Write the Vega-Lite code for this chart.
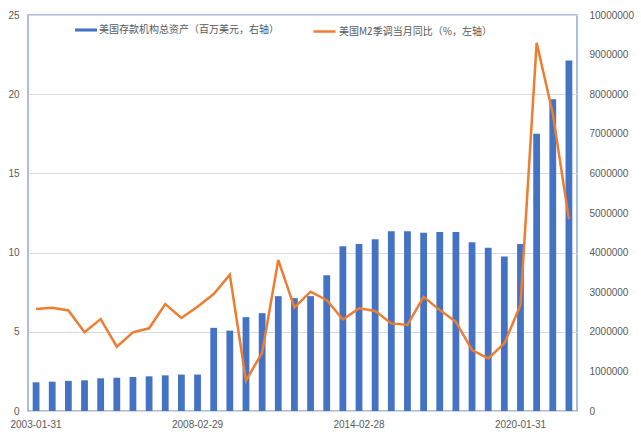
{
  "$schema": "https://vega.github.io/schema/vega-lite/v6.json",
  "autosize": "none",
  "width": 549,
  "height": 396,
  "padding": {"left": 28, "top": 15, "right": 64, "bottom": 26},
  "background": "white",
  "config": {
    "font": "Noto Sans CJK SC",
    "view": {"stroke": "#8EA9DB", "strokeWidth": 1.5},
    "axis": {"labelColor": "#595959", "labelFontSize": 10, "labelFont": "Liberation Sans", "ticks": false, "domain": false, "title": null}
  },
  "data": {
    "values": [
      {"date": "2003-01-31", "assets": 725000, "m2": 6.44},
      {"date": "2003-07-31", "assets": 740000, "m2": 6.52},
      {"date": "2004-01-31", "assets": 760000, "m2": 6.35},
      {"date": "2004-07-31", "assets": 775000, "m2": 4.97},
      {"date": "2005-01-31", "assets": 825000, "m2": 5.8},
      {"date": "2005-07-31", "assets": 840000, "m2": 4.06},
      {"date": "2006-01-31", "assets": 860000, "m2": 4.97},
      {"date": "2006-07-31", "assets": 875000, "m2": 5.22},
      {"date": "2007-01-31", "assets": 900000, "m2": 6.75},
      {"date": "2007-07-31", "assets": 920000, "m2": 5.87},
      {"date": "2008-02-29", "assets": 920000, "m2": 6.58},
      {"date": "2008-09-30", "assets": 2100000, "m2": 7.38},
      {"date": "2009-04-30", "assets": 2030000, "m2": 8.6},
      {"date": "2009-11-30", "assets": 2370000, "m2": 1.91},
      {"date": "2010-06-30", "assets": 2470000, "m2": 3.68},
      {"date": "2011-01-31", "assets": 2900000, "m2": 9.53},
      {"date": "2011-08-31", "assets": 2850000, "m2": 6.54},
      {"date": "2012-03-31", "assets": 2900000, "m2": 7.53},
      {"date": "2012-10-31", "assets": 3430000, "m2": 7.0},
      {"date": "2013-06-30", "assets": 4160000, "m2": 5.78},
      {"date": "2014-02-28", "assets": 4220000, "m2": 6.48},
      {"date": "2014-09-30", "assets": 4340000, "m2": 6.31},
      {"date": "2015-04-30", "assets": 4540000, "m2": 5.53},
      {"date": "2015-11-30", "assets": 4540000, "m2": 5.43},
      {"date": "2016-06-30", "assets": 4500000, "m2": 7.21},
      {"date": "2017-01-31", "assets": 4520000, "m2": 6.37},
      {"date": "2017-08-31", "assets": 4520000, "m2": 5.63},
      {"date": "2018-03-31", "assets": 4260000, "m2": 3.85},
      {"date": "2018-10-31", "assets": 4120000, "m2": 3.32},
      {"date": "2019-06-30", "assets": 3900000, "m2": 4.27},
      {"date": "2020-01-31", "assets": 4220000, "m2": 6.69},
      {"date": "2020-08-31", "assets": 7000000, "m2": 23.25},
      {"date": "2021-03-31", "assets": 7870000, "m2": 18.78},
      {"date": "2021-10-31", "assets": 8850000, "m2": 12.1}
    ]
  },
  "encoding": {
    "x": {
      "field": "date",
      "type": "ordinal",
      "sort": null,
      "scale": {"paddingInner": 0, "paddingOuter": 0},
      "axis": {
        "labelAngle": 0,
        "labelOverlap": false,
        "labelPadding": 8,
        "labelExpr": "indexof(['2003-01-31','2008-02-29','2014-02-28','2020-01-31'], datum.value) >= 0 ? datum.value : ''"
      }
    }
  },
  "layer": [
    {
      "mark": {"type": "bar", "width": {"band": 0.42}, "color": "#4472C4"},
      "encoding": {
        "y": {
          "field": "assets",
          "type": "quantitative",
          "scale": {"domain": [0, 10000000]},
          "axis": {"orient": "right", "values": [0, 1000000, 2000000, 3000000, 4000000, 5000000, 6000000, 7000000, 8000000, 9000000, 10000000], "format": "d", "grid": false, "labelPadding": 12, "labelAlign": "left"}
        },
        "fill": {
          "datum": "美国存款机构总资产（百万美元，右轴）",
          "scale": {"range": ["#4472C4"]},
          "legend": {
            "orient": "none", "legendX": 47, "legendY": 4, "title": null,
            "symbolType": "M-1,-0.14H1V0.14H-1Z", "symbolSize": 484, "symbolStrokeWidth": 0,
            "labelFontSize": 10, "labelColor": "#595959", "labelOffset": 2, "labelLimit": 400, "padding": 0
          }
        }
      }
    },
    {
      "mark": {"type": "line", "color": "#ED7D31", "strokeWidth": 2.5},
      "encoding": {
        "y": {
          "field": "m2",
          "type": "quantitative",
          "scale": {"domain": [0, 25]},
          "axis": {"orient": "left", "values": [0, 5, 10, 15, 20, 25], "grid": true, "gridColor": "#D9D9D9", "labelPadding": 9}
        },
        "stroke": {
          "datum": "美国M2季调当月同比（%，左轴）",
          "scale": {"range": ["#ED7D31"]},
          "legend": {
            "orient": "none", "legendX": 284, "legendY": 4, "title": null,
            "symbolType": "stroke", "symbolSize": 484, "symbolStrokeWidth": 2.5,
            "labelFontSize": 10, "labelColor": "#595959", "labelOffset": 2, "labelLimit": 400, "padding": 0
          }
        }
      }
    }
  ],
  "resolve": {"scale": {"y": "independent"}}
}
